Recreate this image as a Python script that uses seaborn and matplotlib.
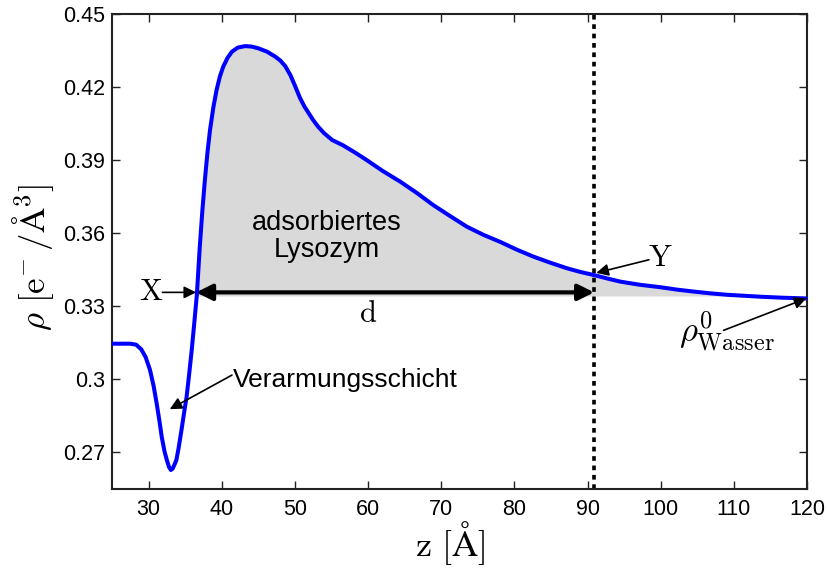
import matplotlib
matplotlib.use("Agg")
import matplotlib.pyplot as plt
import numpy as np
import pandas as pd
import seaborn as sns

# Electron density profile rho(z) of the adsorbed lysozyme layer
z = [25.0, 27.5, 28.3, 29.0, 29.6, 30.2, 30.7, 31.1, 31.5, 31.8, 32.2, 32.5,
     32.8, 33.05, 33.3, 33.6, 33.8, 34.1, 34.5, 34.85, 35.2, 35.55, 35.9,
     36.25, 36.6, 37.0, 37.35, 37.7, 38.05, 38.4, 38.85, 39.3, 39.75, 40.2,
     40.8, 41.4, 42.2, 43.2, 44.1, 45.0, 46.2, 47.3, 48.0, 48.7, 49.4, 50.0,
     50.7, 51.3, 51.9, 52.5, 53.2, 54.0, 55.1, 56.6, 58.2, 59.8, 62.0, 64.4,
     66.7, 68.9, 71.2, 73.5, 75.8, 78.1, 80.3, 82.6, 84.9, 87.2, 89.0, 90.9,
     92.7, 94.5, 97.2, 100.0, 102.3, 104.6, 106.8, 109.1, 111.4, 113.7,
     116.7, 120.0]
rho = [0.3145, 0.3145, 0.3141, 0.3122, 0.3090, 0.3037, 0.2970, 0.2901,
       0.2825, 0.2762, 0.2700, 0.2667, 0.2638, 0.2626, 0.2632, 0.2652,
       0.2667, 0.2715, 0.2790, 0.2860, 0.2926, 0.3020, 0.3119, 0.3230,
       0.3345, 0.3542, 0.3690, 0.3818, 0.3930, 0.4023, 0.4115, 0.4188,
       0.4243, 0.4283, 0.4320, 0.4345, 0.4362, 0.4368, 0.4366, 0.4359,
       0.4345, 0.4325, 0.4309, 0.4285, 0.4248, 0.4206, 0.4155, 0.4120,
       0.4092, 0.4064, 0.4036, 0.4010, 0.3982, 0.3960, 0.3931, 0.3900,
       0.3855, 0.3811, 0.3764, 0.3715, 0.3670, 0.3626, 0.3592, 0.3563,
       0.3532, 0.3503, 0.3478, 0.3455, 0.3440, 0.3427, 0.3413, 0.3400,
       0.3387, 0.3377, 0.3367, 0.3359, 0.3352, 0.3346, 0.3342, 0.3338,
       0.3334, 0.3331]

x_ticks = [30, 40, 50, 60, 70, 80, 90, 100, 110, 120]
y_ticks = [0.27, 0.30, 0.33, 0.36, 0.39, 0.42, 0.45]
y_tick_labels = ["0.27", "0.3", "0.33", "0.36", "0.39", "0.42", "0.45"]

# characteristic positions of the layer
z_X = 36.5          # onset of the adsorbed layer
z_Y = 90.9          # end of the adsorbed layer
rho_base = 0.3341   # lower edge of the shaded layer
rho_d = 0.3356      # height of the thickness arrow
rho_water = 0.3331  # bulk water density

sns.set_style("ticks")
plt.rcParams["font.family"] = ["Liberation Sans", "DejaVu Sans"]
plt.rcParams["mathtext.fontset"] = "cm"
for key in ("text.color", "axes.labelcolor", "xtick.color", "ytick.color"):
    plt.rcParams[key] = "black"

fig, ax = plt.subplots(figsize=(8.27, 5.68), dpi=100)
fig.subplots_adjust(left=0.1354, right=0.9758, top=0.9754, bottom=0.1391)

df = pd.DataFrame({"z": z, "rho": rho})
zz = df["z"].to_numpy()
rr = df["rho"].to_numpy()

ax.fill_between(zz, rho_base, rr, where=(rr >= rho_base) & (zz > 34),
                interpolate=True, color="#d9d9d9", lw=0, zorder=1)
sns.lineplot(data=df, x="z", y="rho", ax=ax, color="#0000ff", lw=2.9,
             sort=False, estimator=None, zorder=3)
ax.axvline(z_Y, color="k", lw=2.6, ls=(0, (1.3, 1.3)), zorder=2)

ax.set_xlim(25, 120)
ax.set_ylim(0.2548, 0.45)
ax.set_xticks(x_ticks)
ax.set_xticklabels([str(t) for t in x_ticks])
ax.set_yticks(y_ticks)
ax.set_yticklabels(y_tick_labels)
ax.tick_params(direction="in", top=True, right=True, length=6, width=1.0,
               labelsize=15.5, color="#222222", labelcolor="black")
ax.tick_params(axis="x", pad=7)
ax.tick_params(axis="y", pad=5)
for sp in ax.spines.values():
    sp.set_visible(True)
    sp.set_linewidth(1.5)
    sp.set_color("#222222")

ax.set_xlabel(r"$\mathrm{z}\ [\mathrm{\AA}]$", fontsize=26, va="center")
ax.xaxis.set_label_coords(0.486, -0.114)
ax.set_ylabel(r"$\rho\ [\mathrm{e}^{-}\,/\mathrm{\AA}^{3}]$", fontsize=25,
              va="center")
ax.yaxis.set_label_coords(-0.113, 0.488)

# thickness arrow d
ax.annotate("", xy=(z_X, rho_d), xytext=(z_Y, rho_d),
            arrowprops=dict(arrowstyle="<|-|>", lw=3, color="k",
                            mutation_scale=24, shrinkA=0, shrinkB=0),
            zorder=4)
ax.text(60.0, 0.3267, r"$\mathrm{d}$", fontsize=22, ha="center", va="center")

thin = dict(arrowstyle="-|>", lw=1.2, color="k", mutation_scale=18,
            shrinkA=0, shrinkB=0)
ax.annotate("", xy=(z_X, rho_d), xytext=(31.9, rho_d), arrowprops=thin)
ax.text(30.4, 0.3358, r"$\mathrm{X}$", fontsize=22, ha="center", va="center")

ax.annotate("", xy=(91.2, 0.3436), xytext=(98.4, 0.3490), arrowprops=thin)
ax.text(99.9, 0.3497, r"$\mathrm{Y}$", fontsize=22, ha="center", va="center")

ax.annotate("", xy=(119.9, rho_water), xytext=(108.6, 0.3200),
            arrowprops=thin)
ax.text(109.0, 0.3193, r"$\rho^{0}_{\mathrm{Wasser}}$", fontsize=25,
        ha="center", va="center")

ax.annotate("", xy=(32.9, 0.2876), xytext=(41.4, 0.3016), arrowprops=thin)
ax.text(41.5, 0.2995, "Verarmungsschicht", fontsize=19, ha="left",
        va="center")

ax.text(54.4, 0.3584, "adsorbiertes\nLysozym", fontsize=19.5, ha="center",
        va="center", linespacing=1.05)

fig.savefig("out.png", dpi=100)
